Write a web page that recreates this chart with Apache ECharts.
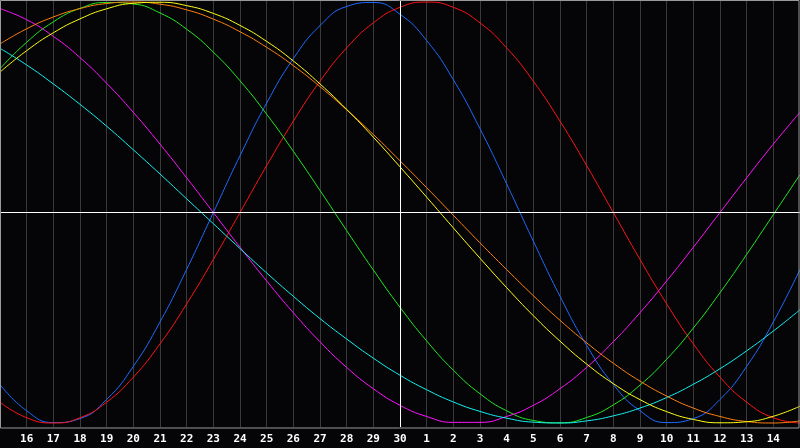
<!DOCTYPE html>
<html>
<head>
<meta charset="utf-8">
<script src="https://cdn.jsdelivr.net/npm/echarts@6/dist/echarts.min.js"></script>
<style>
html,body{margin:0;padding:0;background:#050507;}
#c{width:800px;height:448px;}
</style>
</head>
<body>
<div id="c"></div>
<script>
// x-axis day labels (first and last entries sit on the frame edges, unlabeled)
var days = ['15','16','17','18','19','20','21','22','23','24','25','26','27','28','29','30',
            '1','2','3','4','5','6','7','8','9','10','11','12','13','14','15'];
var todayIndex = 15; // day 30

var blue = [-0.817,-0.942,-0.998,-0.979,-0.888,-0.731,-0.520,-0.270,0.000,0.270,0.520,0.731,0.888,0.979,0.998,0.942,
            0.817,0.631,0.398,0.136,-0.136,-0.398,-0.631,-0.817,-0.942,-0.998,-0.979,-0.888,-0.731,-0.520,-0.270];
var red = [-0.901,-0.975,-1.000,-0.975,-0.901,-0.782,-0.624,-0.434,-0.223,0.000,0.223,0.434,0.624,0.782,0.901,0.975,
           1.000,0.975,0.901,0.782,0.624,0.434,0.223,0.000,-0.223,-0.434,-0.624,-0.782,-0.901,-0.975,-1.000];
var green = [0.683,0.809,0.906,0.970,0.998,0.991,0.948,0.871,0.762,0.626,0.467,0.291,0.105,-0.086,-0.273,-0.450,
             -0.610,-0.749,-0.861,-0.942,-0.988,-0.999,-0.974,-0.914,-0.820,-0.697,-0.549,-0.381,-0.199,-0.010,0.180];
var magenta = [0.969,0.916,0.837,0.736,0.614,0.476,0.325,0.165,0.000,-0.165,-0.325,-0.476,-0.614,-0.736,-0.837,-0.916,
               -0.969,-0.997,-0.997,-0.969,-0.916,-0.837,-0.736,-0.614,-0.476,-0.325,-0.165,0.000,0.165,0.325,0.476];
var yellow = [0.667,0.769,0.854,0.920,0.968,0.994,0.999,0.983,0.946,0.889,0.813,0.720,0.611,0.490,0.358,0.217,
              0.073,-0.073,-0.217,-0.357,-0.490,-0.611,-0.720,-0.813,-0.889,-0.946,-0.983,-0.999,-0.994,-0.968,-0.920];
var cyan = [0.780,0.701,0.611,0.514,0.410,0.298,0.183,0.065,-0.053,-0.171,-0.287,-0.398,-0.504,-0.601,-0.692,-0.773,
            -0.842,-0.900,-0.945,-0.977,-0.996,-1.000,-0.990,-0.966,-0.929,-0.879,-0.816,-0.742,-0.657,-0.563,-0.462];
var orange = [0.801,0.873,0.929,0.969,0.993,1.000,0.990,0.963,0.919,0.859,0.785,0.698,0.598,0.488,0.371,0.246,
              0.118,-0.013,-0.144,-0.271,-0.395,-0.512,-0.619,-0.716,-0.801,-0.872,-0.929,-0.969,-0.993,-1.000,-0.990];

var seriesList = [
  {name:'blue', data: blue, color:'#1e6bff'},
  {name:'red', data: red, color:'#ff1414'},
  {name:'green', data: green, color:'#22e822'},
  {name:'magenta', data: magenta, color:'#ff14ff'},
  {name:'cyan', data: cyan, color:'#14f0f0'},
  {name:'orange', data: orange, color:'#ff8010'},
  {name:'yellow', data: yellow, color:'#ffff14'}
];

var chart = echarts.init(document.getElementById('c'), null, {renderer:'canvas'});

var series = seriesList.map(function(s){
  return {
    type:'line', name:s.name, data:s.data, smooth:true, showSymbol:false, symbol:'none',
    lineStyle:{color:s.color, width:1}, itemStyle:{color:s.color}, z:3, animation:false
  };
});
// reference lines (zero line and current day)
series.push({
  type:'line', data:[], animation:false, z:2,
  markLine:{
    symbol:['none','none'], silent:true, animation:false,
    label:{show:false},
    lineStyle:{color:'#ffffff', width:1, type:'solid'},
    data:[{yAxis:0},{xAxis:todayIndex}]
  }
});

chart.setOption({
  backgroundColor:'#050507',
  animation:false,
  grid:{left:0, right:0, top:1, bottom:21, containLabel:false},
  xAxis:{
    type:'category', data:days, boundaryGap:false,
    axisLine:{show:false}, axisTick:{show:false},
    axisLabel:{
      color:'#ffffff', fontFamily:'DejaVu Sans Mono', fontWeight:'bold', fontSize:11, margin:7,
      interval:function(i){ return i>0 && i<days.length-1; }
    },
    splitLine:{show:true, interval:0, lineStyle:{color:'#3a3a3a', width:1}}
  },
  yAxis:{
    type:'value', min:-1.019, max:1.005, show:true,
    axisLine:{show:false}, axisTick:{show:false}, axisLabel:{show:false}, splitLine:{show:false}
  },
  graphic:[{
    type:'rect', silent:true, z:100,
    shape:{x:0.5, y:0.5, width:798.5, height:427.5},
    style:{fill:null, stroke:'#9a9a9a', lineWidth:1}
  }],
  series:series
});
</script>
</body>
</html>
